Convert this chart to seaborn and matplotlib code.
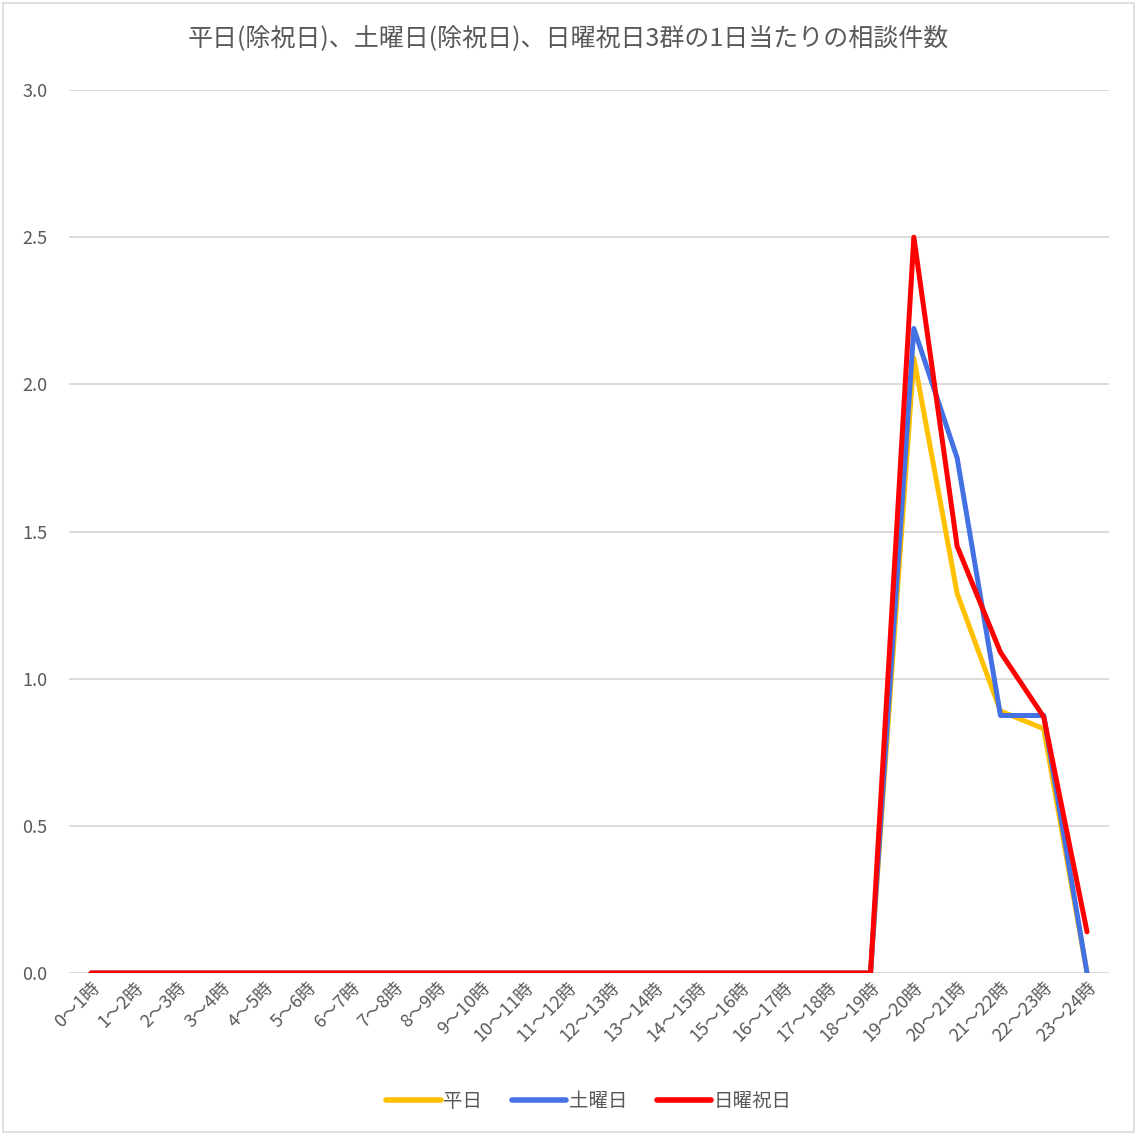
import matplotlib
matplotlib.use("Agg")
import matplotlib.pyplot as plt
import seaborn as sns
import pandas as pd
from matplotlib.patches import Rectangle

# ── data ────────────────────────────────────────────────────────────────────
hours = [f"{h}～{h + 1}時" for h in range(24)]
weekday = [0.0] * 19 + [2.09, 1.29, 0.89, 0.83, 0.0]
saturday = [0.0] * 19 + [2.19, 1.75, 0.875, 0.875, 0.0]
sunday_holiday = [0.0] * 19 + [2.50, 1.45, 1.09, 0.87, 0.14]
groups = ["平日", "土曜日", "日曜祝日"]
colors = ["#FFC000", "#4472E4", "#FF0000"]

TEXT_C = "#595959"
GRID_C = "#D9D9D9"

df = pd.DataFrame({
    "時間帯": hours * 3,
    "件数": weekday + saturday + sunday_holiday,
    "群": sum([[g] * len(hours) for g in groups], []),
})

sns.set_style("white")
plt.rcParams["font.family"] = ["Noto Sans CJK JP", "DejaVu Sans"]

fig = plt.figure(figsize=(11.37, 11.35), dpi=100)
ax = fig.add_axes([0.0611, 0.1427, 0.9140, 0.7780])

sns.lineplot(data=df, x="時間帯", y="件数", hue="群", hue_order=groups,
             palette=dict(zip(groups, colors)), sort=False, linewidth=3.6,
             ax=ax, legend=True)
for line in ax.lines:
    line.set_solid_capstyle("round")
    line.set_solid_joinstyle("round")

ax.set_xlim(-0.5, len(hours) - 0.5)
ax.set_ylim(0, 3.0)
ax.set_yticks([0, 0.5, 1.0, 1.5, 2.0, 2.5, 3.0])
ax.set_yticklabels([f"{v:.1f}" for v in [0, 0.5, 1.0, 1.5, 2.0, 2.5, 3.0]])
ax.yaxis.grid(True, color=GRID_C, linewidth=1.3)
ax.set_axisbelow(True)
for s in ax.spines.values():
    s.set_visible(False)
ax.tick_params(axis="both", length=0, colors=TEXT_C, labelsize=13)
ax.tick_params(axis="y", pad=16)
ax.tick_params(axis="x", pad=4)
plt.setp(ax.get_xticklabels(), rotation=45, ha="right", rotation_mode="anchor")
ax.set_xlabel("")
ax.set_ylabel("")

fig.suptitle("平日(除祝日)、土曜日(除祝日)、日曜祝日3群の1日当たりの相談件数",
             y=0.978, fontsize=18, color=TEXT_C)

leg = ax.legend(loc="center", bbox_to_anchor=(0.5, -0.145), ncol=3,
                frameon=False, fontsize=14, handlelength=2.8,
                handletextpad=0.15, columnspacing=1.5)
for t in leg.get_texts():
    t.set_color(TEXT_C)
for h in leg.legend_handles:
    h.set_linewidth(4)

fig.patches.append(Rectangle((0.003, 0.003), 0.994, 0.994, transform=fig.transFigure,
                             fill=False, edgecolor="#D9D9D9", linewidth=1.2))

fig.savefig("out.png", dpi=100, facecolor="white")
